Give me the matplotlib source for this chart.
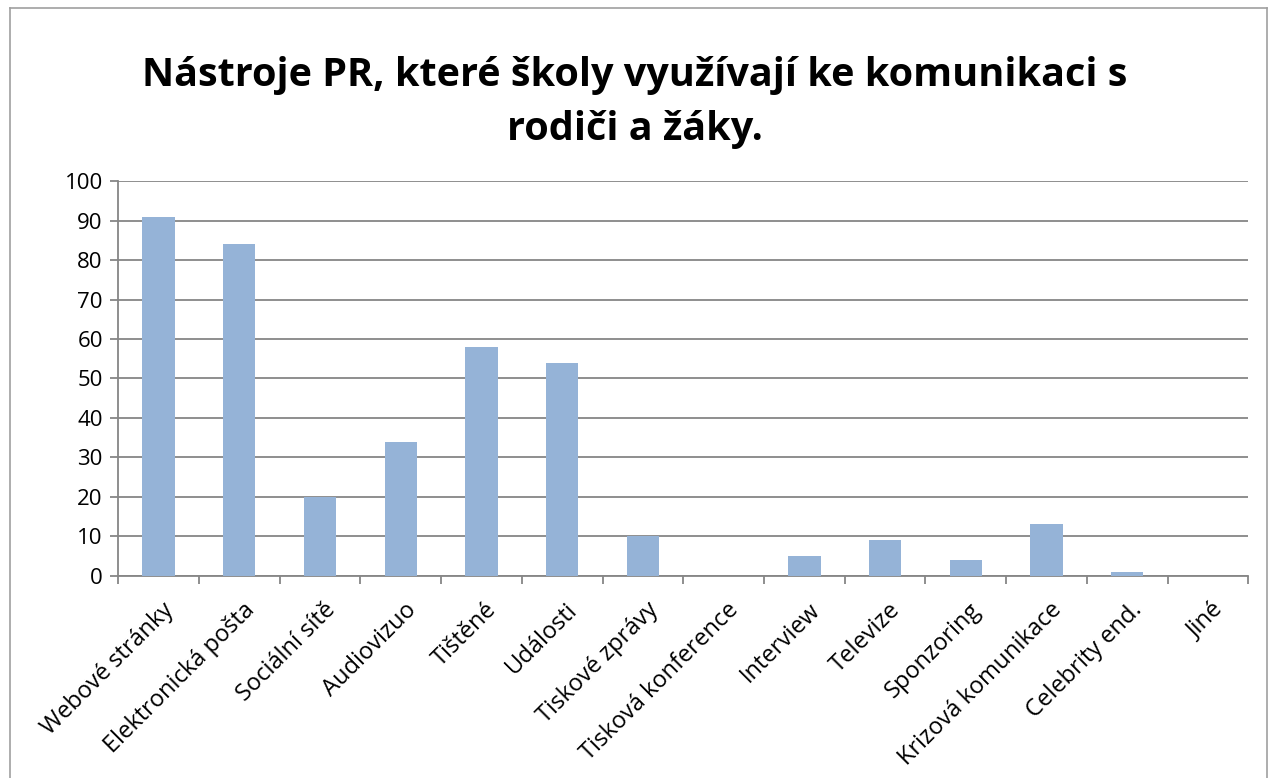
import numpy as np
import matplotlib.pyplot as plt
from matplotlib.lines import Line2D

categories = ['Webové stránky', 'Elektronická pošta', 'Sociální sítě', 'Audiovizuo',
              'Tištěné', 'Události', 'Tiskové zprávy', 'Tisková konference',
              'Interview', 'Televize', 'Sponzoring', 'Krizová komunikace',
              'Celebrity end.', 'Jiné']
values = [91, 84, 20, 34, 58, 54, 10, 0, 5, 9, 4, 13, 1, 0]
y_ticks = [0, 10, 20, 30, 40, 50, 60, 70, 80, 90, 100]

plt.rcParams['font.family'] = ['Open Sans', 'DejaVu Sans']

fig = plt.figure(figsize=(12.7, 7.78), dpi=100)
ax = fig.add_axes([0.093, 0.260, 0.890, 0.507])

x = np.arange(len(categories))
ax.bar(x, values, width=0.4, color='#95b3d7', zorder=3)

ax.set_xlim(-0.5, len(categories) - 0.5)
ax.set_ylim(0, 100)
ax.set_yticks(y_ticks)
ax.set_yticklabels([str(v) for v in y_ticks], fontsize=16)
ax.yaxis.grid(True, color='#868686', linewidth=1.3, zorder=0)

# labels end just right of the category centre, as in the original
ax.set_xticks(x + 0.04)
ax.set_xticklabels(categories, fontsize=17, rotation=45, ha='right', rotation_mode='anchor')
ax.tick_params(axis='x', length=0, pad=16)
ax.set_xticks(np.arange(-0.5, len(categories)), minor=True)
ax.tick_params(axis='x', which='minor', length=6, color='#868686', width=1.3)
ax.tick_params(axis='y', length=6, color='#868686', width=1.3, pad=5)

for s in ['top', 'right']:
    ax.spines[s].set_visible(False)
for s in ['left', 'bottom']:
    ax.spines[s].set_color('#868686')
    ax.spines[s].set_linewidth(1.3)

fig.text(0.5, 0.868, 'Nástroje PR, které školy využívají ke komunikaci s\nrodiči a žáky.',
         ha='center', va='center', fontsize=28.5, fontweight='bold', linespacing=1.5)

# outer chart border
fig.add_artist(Line2D([0.008, 0.008], [0, 0.99], color='#a0a0a0', linewidth=1.2, transform=fig.transFigure))
fig.add_artist(Line2D([0.008, 0.998], [0.99, 0.99], color='#a0a0a0', linewidth=1.2, transform=fig.transFigure))
fig.add_artist(Line2D([0.998, 0.998], [0, 0.99], color='#a0a0a0', linewidth=1.2, transform=fig.transFigure))

fig.savefig('out.png', dpi=100)
